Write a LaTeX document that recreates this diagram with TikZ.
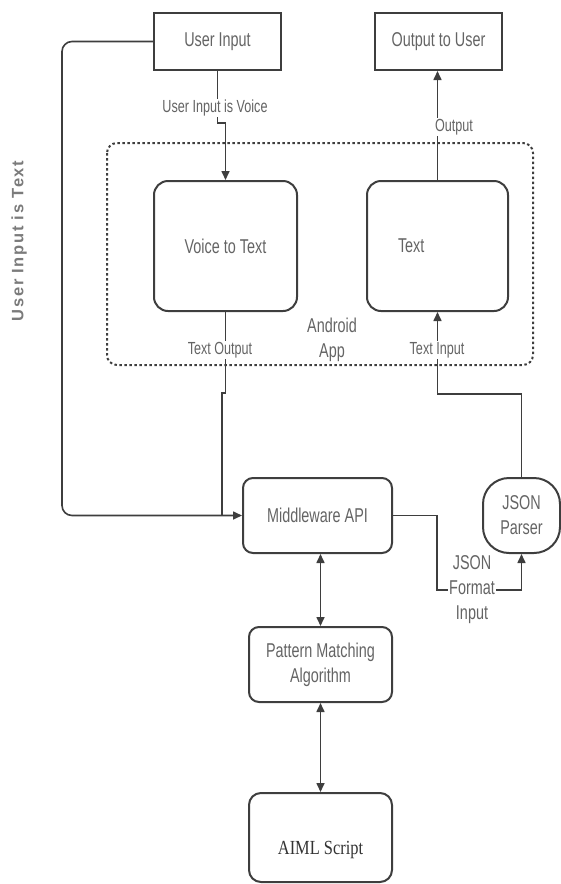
\documentclass[tikz,border=0pt]{standalone}
\usepackage{fontspec}
\usepackage{xcolor}
\usepackage{tikz}
\usetikzlibrary{arrows.meta, positioning, calc}
\newfontfamily\condfont[FakeStretch=0.72]{Liberation Sans}
\newfontfamily\aimlfont[FakeStretch=0.82]{Liberation Serif}
\newfontfamily\sidefont[LetterSpace=10]{Liberation Sans}
\definecolor{linegray}{RGB}{62, 62, 62}
\definecolor{txtgray}{RGB}{100, 100, 100}

\begin{document}
\begin{tikzpicture}[
    x=1pt, y=-1pt,
    box/.style={
        rectangle, draw=linegray, line width=2pt, text=txtgray,
        font=\condfont\fontsize{20}{25}\selectfont, align=center,
        inner sep=2pt
    },
    rbox/.style={box, rounded corners=#1},
    rbox/.default=12pt,
    lbl/.style={fill=white, text=txtgray, font=\condfont\fontsize{17.5}{21}\selectfont, inner sep=1pt},
    side/.style={text=txtgray!85, font=\sidefont\bfseries\fontsize{16.5}{20}\selectfont, rotate=90},
    conn/.style={draw=linegray, line width=1.6pt},
    arr/.style={conn, -{Triangle[length=9pt, width=8pt]}},
    dblarr/.style={conn, {Triangle[length=9pt, width=8pt]}-{Triangle[length=9pt, width=8pt]}},
    appbox/.style={draw=linegray, line width=2pt, dash pattern=on 2.5pt off 2.5pt, rounded corners=10pt}
]
\useasboundingbox (0,0) rectangle (561,884);

% Android app frame
\draw[appbox] (107,143) rectangle (533,365);
\node[lbl, fill=none, font=\condfont\fontsize{20}{25}\selectfont, align=center] (andr) at (332,340) {Android\\App};

% Boxes
\node[box, minimum width=127pt, minimum height=57pt] (uin) at (217.5,41.5) {User Input};
\node[box, minimum width=127pt, minimum height=57pt] (out) at (438.5,41.5) {Output to User};
\node[rbox=14pt, minimum width=143pt, minimum height=130pt] (v2t) at (225.5,246) {Voice to Text};
\node[rbox=14pt, minimum height=130pt, text width=79pt, inner xsep=31pt, align=left] (txt) at (437.5,246) {Text};
\node[rbox=10pt, minimum width=149pt, minimum height=75pt] (mid) at (317.5,515.5) {Middleware API};
\node[rbox=26pt, minimum width=77pt, minimum height=75pt] (jp) at (521.5,515.5) {JSON\\Parser};
\node[rbox=10pt, minimum width=143pt, minimum height=75pt] (pm) at (320.5,664.5) {Pattern Matching\\Algorithm};
\node[rbox=12pt, minimum width=143pt, minimum height=89pt, font=\aimlfont\fontsize{20}{25}\selectfont,
      text=black!80, text height=38pt, text depth=5pt] (aiml) at (320.5,837.5) {AIML Script};

% Bends
\coordinate (lft) at (62,41.5);
\coordinate (vj) at (217.5,123);
\coordinate (tj) at (222,393);
\coordinate (tin) at (437.5,394);
\coordinate (jf) at (437,590);

% Connectors
\draw[arr, rounded corners=10pt] (uin.west) -- (lft) |- (mid.west);
\draw[arr] (uin.south) -- (vj) -| (v2t.north);
\draw[arr] (txt.north) -- (txt.north |- out.south);
\draw[conn] (v2t.south) |- (tj) -- (tj |- mid.west);
\draw[arr] (jp.north) |- (tin) -- (txt.south);
\draw[arr] (mid.east) -| (jf) -| (jp.south);
\draw[dblarr] (pm.north |- mid.south) -- (pm.north);
\draw[dblarr] (pm.south) -- (aiml.north);

% Labels
\node[lbl] (vlbl) at (215,108) {User Input is Voice};
\node[lbl] (olbl) at (454,127) {Output};
\node[lbl] (tolbl) at (220,350) {Text Output};
\node[lbl] (tilbl) at (437,350) {Text Input};
\node[lbl, font=\condfont\fontsize{20}{25}\selectfont, align=center] (jflbl) at (472,590) {JSON\\Format\\Input};
\node[side] (uitlbl) at (19,241) {User Input is Text};

\end{tikzpicture}
\end{document}
